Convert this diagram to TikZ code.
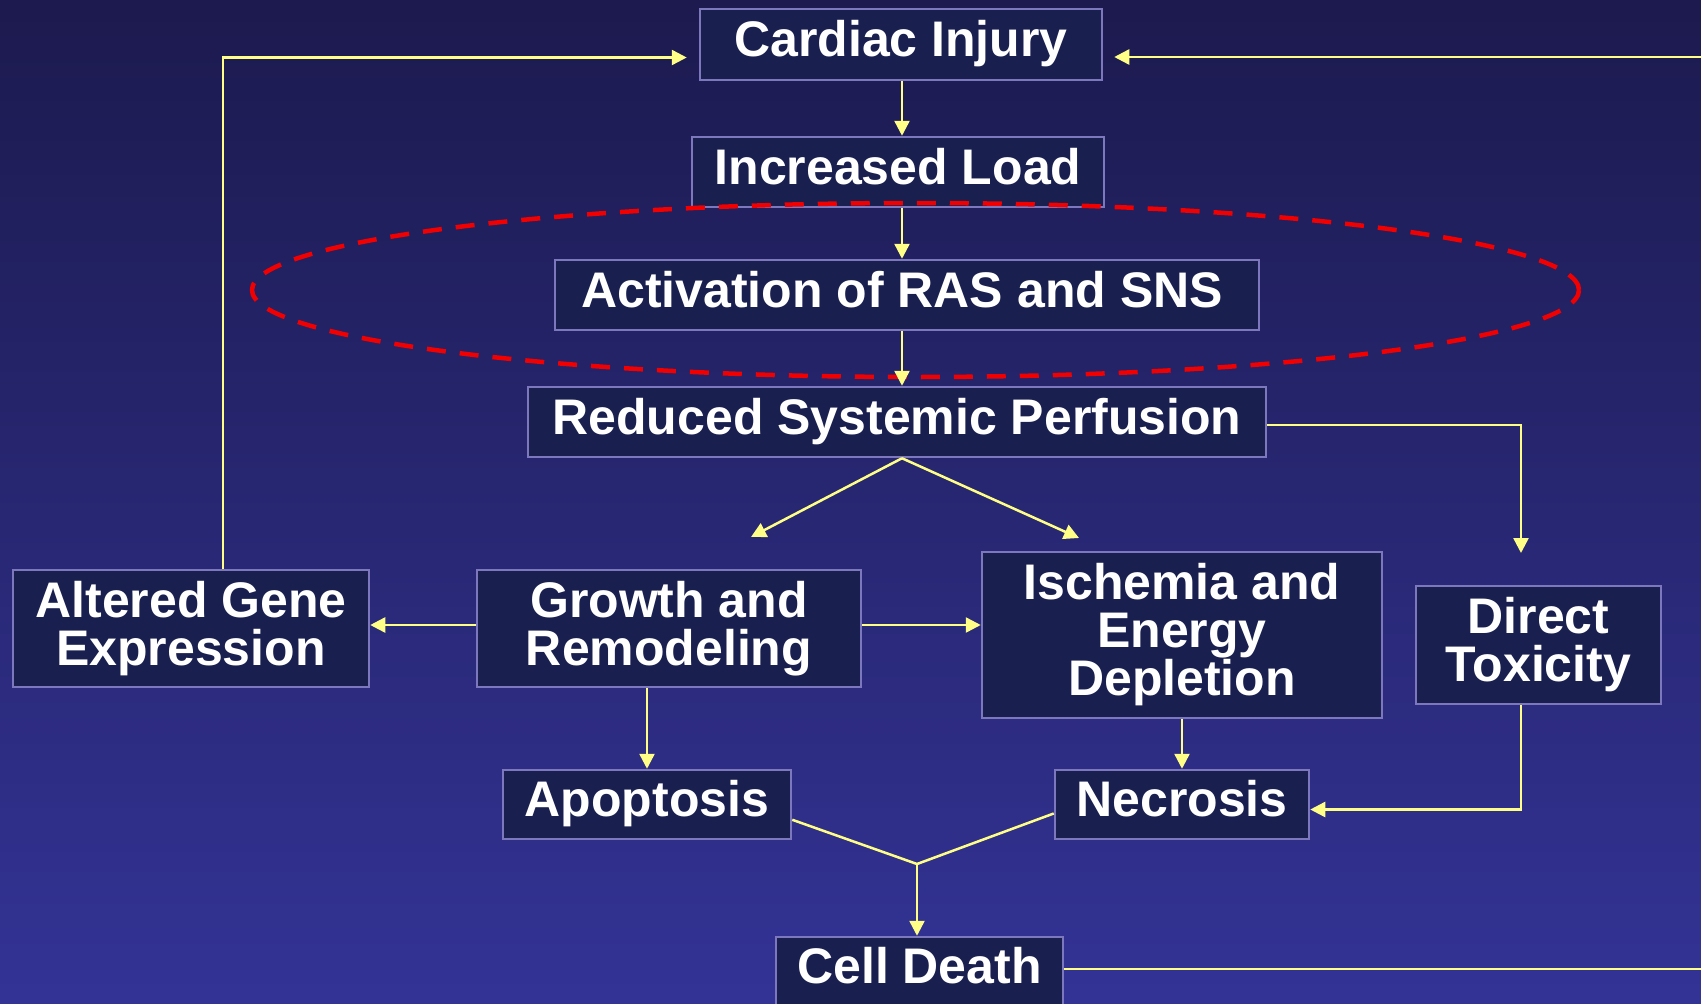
\documentclass[tikz,border=0pt]{standalone}
\usepackage{fontspec}
\setmainfont{Liberation Sans}
\usetikzlibrary{arrows.meta,calc}
\definecolor{bgtop}{RGB}{28,26,78}
\definecolor{bgbot}{RGB}{51,51,150}
\definecolor{boxfill}{RGB}{25,31,78}
\definecolor{boxline}{RGB}{125,120,190}
\definecolor{arrowc}{RGB}{255,255,136}
\definecolor{ellred}{RGB}{240,0,0}
\begin{document}
\begin{tikzpicture}[x=1pt,y=-1pt,
  box/.style={draw=boxline, line width=2.5pt, fill=boxfill, text=white,
    font=\fontsize{50}{48}\selectfont\bfseries, align=center, inner sep=0pt},
  one/.style={text height=36pt, text depth=12pt},
  conn/.style={draw=arrowc, line width=2.5pt},
  arr/.style={conn, -{Triangle[length=15pt,width=15pt]}}]
\useasboundingbox (0,0) rectangle (1701,1004);
\shade[top color=bgtop, bottom color=bgbot] (0,0) rectangle (1701,1004);

% nodes
\node[box, one, minimum width=402pt, minimum height=71pt] (cardiac) at (901,44.5) {Cardiac Injury};
\node[box, one, minimum width=412pt, minimum height=70pt] (inc) at (898,172) {Increased Load};
\node[box, one, minimum width=704pt, minimum height=70pt] (act) at (907,295) {Activation of RAS and SNS\hspace{10pt}};
\node[box, one, minimum width=738pt, minimum height=70pt] (red) at (897,422) {Reduced Systemic Perfusion};
\node[box, minimum width=356pt, minimum height=117pt] (alt) at (191,628.5) {Altered Gene\\Expression};
\node[box, minimum width=384pt, minimum height=117pt] (grow) at (669,628.5) {Growth and\\Remodeling};
\node[box, minimum width=400pt, minimum height=166pt] (isch) at (1182,635) {Ischemia and\\Energy\\Depletion};
\node[box, minimum width=245pt, minimum height=118pt] (direct) at (1538.5,645) {Direct\\Toxicity};
\node[box, one, minimum width=288pt, minimum height=69pt] (apop) at (647,804.5) {Apoptosis};
\node[box, one, minimum width=254pt, minimum height=69pt] (necr) at (1182,804.5) {Necrosis};
\node[box, one, minimum width=287pt, minimum height=68pt] (cell) at (919.5,971) {Cell Death};

% dashed ellipse
\draw[ellred, line width=4.5pt, dash pattern=on 19pt off 14pt]
  (915.5,290) ellipse [x radius=663.5pt, y radius=87pt];

% helper coordinates
\coordinate (colx) at (902,0);
\coordinate (sl) at (751,537);
\coordinate (sr) at (1079,538);
\coordinate (dtip) at (1521,553);
\coordinate (m) at (917,864);
\coordinate (lx) at (223,0);
\coordinate (re1) at (1701,57);
\coordinate (re2) at (1701,969);

% connectors
\draw[arr] (cardiac.south -| colx) -- (inc.north -| colx);
\draw[arr] (inc.south -| colx) -- (act.north -| colx);
\draw[arr] (act.south -| colx) -- (red.north -| colx);
\draw[arr] (red.south -| colx) -- (sl);
\draw[arr] (red.south -| colx) -- (sr);
\draw[arr] ($(red.east)+(0,3)$) -| (dtip);
\draw[arr] (direct.south -| dtip) |- ($(necr.east)+(0,5)$);
\draw[arr] ($(grow.west)+(0,-3.5)$) -- ($(alt.east)+(0,-3.5)$);
\draw[arr] ($(grow.east)+(0,-3.5)$) -- ($(grow.east -| isch.west)+(0,-3.5)$);
\draw[arr] (grow.south -| apop.north) -- (apop.north);
\draw[arr] (isch.south) -- (necr.north);
\draw[conn] (apop.-6) -- (m);
\draw[conn] (necr.184) -- (m);
\draw[arr] (m) -- (m |- cell.north);
\draw[arr, shorten >=12pt] (alt.north -| lx) |- ($(cardiac.west)+(0,13)$);
\draw[arr, shorten >=11pt] (re1) -- (re1 -| cardiac.east);
\draw[conn] (cell.east |- re2) -- (re2);
\end{tikzpicture}
\end{document}
